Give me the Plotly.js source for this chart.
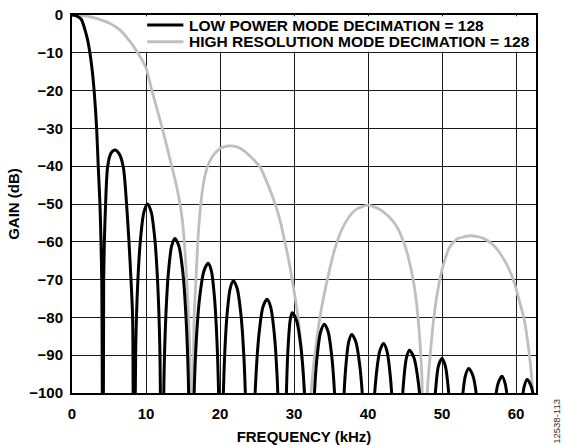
<!DOCTYPE html>
<html>
<head>
<meta charset="utf-8">
<script src="https://cdn.plot.ly/plotly-3.0.1.min.js"></script>
<style>html,body{margin:0;padding:0;background:#fff;}#chart{width:565px;height:445px;}</style>
</head>
<body>
<div id="chart"></div>
<script>
// ---- data ----
const seriesNames = ["LOW POWER MODE DECIMATION = 128", "HIGH RESOLUTION MODE DECIMATION = 128"];

// Low power mode, frequency (kHz)
const lpFreq = [
  0, 0.5, 1.0, 1.3, 1.76, 2.1, 2.43, 2.75, 3.0, 3.33, 3.55, 3.78, 3.92, 4.02, 4.2,
  4.28, 4.37, 4.54, 4.81, 5.25, 5.81, 6.4, 6.93, 7.38, 7.7, 7.97, 8.19, 8.33,
  8.61, 8.89, 9.27, 9.73, 10.2, 10.69, 11.18, 11.57, 11.87, 12.16,
  12.42, 12.68, 13.03, 13.47, 13.9, 14.44, 14.98, 15.4, 15.73, 16.05,
  16.45, 16.79, 17.25, 17.83, 18.4, 18.83, 19.25, 19.59, 19.85, 20.1,
  20.36, 20.61, 20.95, 21.38, 21.8, 22.31, 22.83, 23.24, 23.54, 23.85,
  24.2, 24.52, 24.85, 25.28, 25.81, 26.35, 26.84, 27.33, 27.72, 28.01, 28.3,
  28.65, 28.82, 28.98, 29.2, 29.48, 29.75, 30.34, 30.93, 31.4, 31.75, 32.1,
  32.4, 32.7, 33.1, 33.6, 34.1, 34.61, 35.13, 35.54, 35.84, 36.15,
  36.4, 36.65, 36.98, 37.39, 37.8, 38.36, 38.93, 39.38, 39.71, 40.05,
  40.36, 40.67, 41.08, 41.59, 42.1, 42.56, 43.03, 43.4, 43.67, 43.95,
  44.2, 44.45, 44.78, 45.19, 45.6, 46.21, 46.83, 47.32, 47.68, 48.05,
  48.34, 48.64, 49.1, 49.51, 50.0, 50.45, 50.9, 51.26, 51.53, 51.8,
  52.07, 52.34, 52.7, 53.15, 53.6, 54.19, 54.78, 55.25, 55.6, 55.95,
  56.27, 56.6, 57.03, 57.56, 58.1, 58.54, 58.98, 59.33, 59.59, 59.85,
  60.1, 60.35, 60.68, 61.09, 61.5, 62.08, 62.65, 63.11
];
// Low power mode, gain (dB)
const lpGain = [
  0, -0.15, -0.7, -1.3, -4.0, -6.5, -10.1, -15.0, -20.3, -30.0, -40.2, -50.2, -60.0, -70.0, -150,
  -70, -60, -50, -40.2, -36.6, -35.7, -36.8, -40.2, -50.2, -60, -70, -80, -150,
  -88, -70.6, -59, -52, -50, -52, -59, -70.6, -88, -150,
  -97.1, -79.7, -68.1, -61.1, -59.1, -61.1, -68.1, -79.7, -97.1, -150,
  -103.7, -86.3, -74.7, -67.7, -65.7, -67.7, -74.7, -86.3, -103.7, -150,
  -108.3, -90.9, -79.3, -72.3, -70.3, -72.3, -79.3, -90.9, -108.3, -150,
  -150, -113.2, -95.8, -84.2, -77.2, -75.2, -77.2, -84.2, -95.8, -113.2, -150,
  -150, -116.8, -99.4, -87.8, -80.8, -78.8, -80.8, -87.8, -99.4, -116.8, -150,
  -119.8, -102.4, -90.8, -83.8, -81.8, -83.8, -90.8, -102.4, -119.8, -150,
  -122.5, -105.1, -93.5, -86.5, -84.5, -86.5, -93.5, -105.1, -122.5, -150,
  -124.9, -107.5, -95.9, -88.9, -86.9, -88.9, -95.9, -107.5, -124.9, -150,
  -126.7, -109.3, -97.7, -90.7, -88.7, -90.7, -97.7, -109.3, -126.7, -150,
  -128.9, -111.5, -99.9, -92.9, -90.9, -92.9, -99.9, -111.5, -128.9, -150,
  -131.5, -114.1, -102.5, -95.5, -93.5, -95.5, -102.5, -114.1, -131.5, -150,
  -133.6, -116.2, -104.6, -97.6, -95.6, -97.6, -104.6, -116.2, -133.6, -150,
  -134.4, -117, -105.4, -98.4, -96.4, -98.4, -105.4, -117
];

// High resolution mode, frequency (kHz)
const hrFreq = [
  0, 1.5, 2.9, 4.2, 5.2, 6.5, 7.87, 8.8, 10.0, 10.8, 11.5, 12.2, 12.85, 13.5, 14.1, 14.6, 14.95, 15.25, 15.5, 15.75, 16.0, 16.2,
  16.38, 16.5, 16.75, 17.0, 17.3, 17.65, 18.1, 18.8, 19.7, 20.5, 21.4, 22.3, 23.3, 24.4, 25.4, 26.5, 27.5, 28.2, 28.8, 29.3, 29.75, 30.4, 30.95, 31.3, 31.5, 31.8,
  31.9, 32.3, 32.8, 33.5, 34.5, 35.5, 36.4, 37.4, 38.5, 40.0, 41.5, 42.8, 43.9, 44.8, 45.5, 46.1, 46.6, 47.0, 47.3, 47.55,
  47.75, 48.0, 48.4, 48.9, 49.5, 50.2, 51.0, 52.0, 53.9, 55.6, 56.9, 58.0, 59.0, 59.8, 60.5, 61.1, 61.75, 62.2, 62.5, 62.7
];
// High resolution mode, gain (dB)
const hrGain = [
  0, -0.15, -0.7, -1.5, -2.3, -4.0, -7.1, -9.7, -14.0, -20.0, -25.0, -30.0, -35.0, -40.2, -45, -50, -55, -62, -70, -80, -95, -150,
  -100, -80, -70, -60, -52, -46, -41.5, -38.0, -35.8, -34.9, -34.6, -34.9, -36.0, -38.0, -40.2, -45.0, -50.3, -55, -60.4, -65, -70, -78, -87, -97, -110, -150,
  -150, -100, -90, -80, -70, -62, -57, -53.5, -51.3, -50.3, -51.3, -53.3, -56, -60, -64.5, -70, -77, -86, -97, -150,
  -150, -100, -90, -80, -72, -66, -61.5, -59.3, -58.4, -59.1, -60.8, -63.5, -67, -71, -76, -80.5, -89, -98, -110, -150
];

const xTicks = [0, 10, 20, 30, 40, 50, 60];
const yTicks = [0, -10, -20, -30, -40, -50, -60, -70, -80, -90, -100];

// ---- chart ----
const FONT = "Liberation Sans, Arial, Helvetica, sans-serif";
const boldFont = (s) => ({family: FONT, size: s, color: "#000", weight: "bold"});

const traces = [
  {x: hrFreq, y: hrGain, name: seriesNames[1], type: "scatter", mode: "lines",
   line: {color: "#bfbfbf", width: 2.8, shape: "spline", smoothing: 0.6}, showlegend: false},
  {x: lpFreq, y: lpGain, name: seriesNames[0], type: "scatter", mode: "lines",
   line: {color: "#000000", width: 3, shape: "spline", smoothing: 0.8}, showlegend: false}
];

const axisCommon = {
  showline: true, mirror: true, linecolor: "#000", linewidth: 2,
  showgrid: true, gridcolor: "#1a1a1a", gridwidth: 1,
  zeroline: false, ticks: "", tickfont: boldFont(15), fixedrange: true
};

const layout = {
  width: 565, height: 445,
  margin: {l: 72, r: 29, t: 15, b: 52, pad: 0},
  paper_bgcolor: "#fff", plot_bgcolor: "#fff",
  showlegend: false,
  xaxis: Object.assign({}, axisCommon, {
    range: [0, 62.7], tickvals: xTicks, ticktext: xTicks.map(String),
    ticklabelstandoff: 6,
    title: {text: "FREQUENCY (kHz)", font: boldFont(15), standoff: 14}
  }),
  yaxis: Object.assign({}, axisCommon, {
    range: [-100, 0], tickvals: yTicks,
    ticklabelstandoff: 4,
    title: {text: "GAIN (dB)", font: boldFont(15), standoff: 6}
  }),
  shapes: [
    {type: "rect", xref: "paper", yref: "paper", x0: 0.153, x1: 0.997, y0: 0.903, y1: 0.997,
     fillcolor: "#fff", line: {width: 0}, layer: "above"},
    {type: "line", xref: "paper", yref: "paper", x0: 0.162, x1: 0.240, y0: 0.9735, y1: 0.9735,
     line: {color: "#000", width: 3}, layer: "above"},
    {type: "line", xref: "paper", yref: "paper", x0: 0.162, x1: 0.240, y0: 0.929, y1: 0.929,
     line: {color: "#bfbfbf", width: 3}, layer: "above"}
  ],
  annotations: [
    {text: seriesNames[0], xref: "paper", yref: "paper", x: 0.247, y: 0.9735,
     xanchor: "left", yanchor: "middle", showarrow: false, font: boldFont(15.5)},
    {text: seriesNames[1], xref: "paper", yref: "paper", x: 0.247, y: 0.929,
     xanchor: "left", yanchor: "middle", showarrow: false, font: boldFont(15.5)},
    {text: "12538-113", xref: "paper", yref: "paper", x: 1.044, y: -0.075,
     xanchor: "center", yanchor: "middle", textangle: -90, showarrow: false,
     font: {family: FONT, size: 9.5, color: "#333"}}
  ]
};

Plotly.newPlot("chart", traces, layout, {staticPlot: true, displayModeBar: false});
</script>
</body>
</html>
